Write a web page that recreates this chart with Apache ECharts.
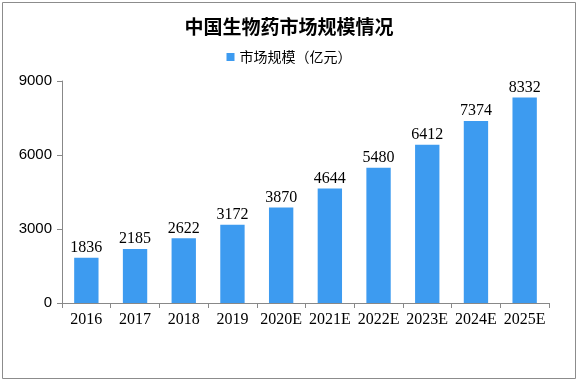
<!DOCTYPE html>
<html><head><meta charset="utf-8">
<script src="https://cdn.jsdelivr.net/npm/echarts@6/dist/echarts.min.js"></script>
<style>html,body{margin:0;padding:0;background:#fff}#c{width:578px;height:381px}</style>
</head><body><div id="c"></div>
<script>
const categories = ['2016','2017','2018','2019','2020E','2021E','2022E','2023E','2024E','2025E'];
const values = [1836,2185,2622,3172,3870,4644,5480,6412,7374,8332];
const seriesName = '市场规模（亿元）';
const titleText = '中国生物药市场规模情况';

const chart = echarts.init(document.getElementById('c'), null, {renderer:'canvas'});
chart.setOption({
  animation:false,
  backgroundColor:'#fff',
  graphic:[{type:'rect',shape:{x:2.5,y:2.5,width:573,height:376},style:{fill:'none',stroke:'#8c8c8c',lineWidth:1},silent:true}],
  title:{text:titleText,left:'center',top:12,textStyle:{fontSize:19,fontWeight:'bold',color:'#000',fontFamily:'Noto Sans CJK SC'}},
  legend:{top:45,left:'center',itemWidth:8,itemHeight:8,itemGap:3,icon:'rect',
    textStyle:{fontSize:14,color:'#000',fontFamily:'Noto Sans CJK SC'}},
  grid:{left:62,right:29,top:81,bottom:78},
  xAxis:{type:'category',data:categories,
    axisLine:{lineStyle:{color:'#888',width:1}},
    axisTick:{show:true,alignWithLabel:false,length:5,lineStyle:{color:'#888'}},
    axisLabel:{color:'#000',fontSize:16,fontFamily:'Liberation Serif',margin:9,interval:0}},
  yAxis:{type:'value',min:0,max:9000,interval:3000,
    axisLine:{show:true,lineStyle:{color:'#888'}},
    axisTick:{show:true,length:5,lineStyle:{color:'#888'}},
    splitLine:{show:false},
    axisLabel:{color:'#000',fontSize:15,fontFamily:'Liberation Sans',margin:10,formatter:v=>String(v)}},
  series:[{name:seriesName,type:'bar',data:values,barWidth:'50%',
    itemStyle:{color:'#3d9bf0'},
    label:{show:true,position:'top',color:'#000',fontSize:16,fontFamily:'Liberation Serif',distance:2}}]
});
</script></body></html>
